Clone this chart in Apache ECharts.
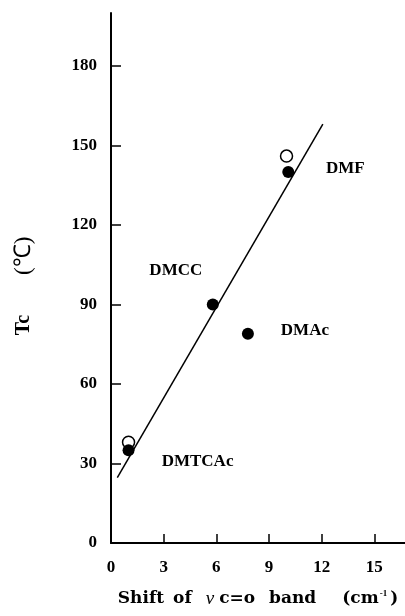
<!DOCTYPE html>
<html>
<head>
<meta charset="utf-8">
<script src="https://cdn.jsdelivr.net/npm/echarts@6/dist/echarts.min.js"></script>
<style>
  html, body { margin: 0; padding: 0; background: #fff; }
  #chart { width: 405px; height: 616px; }
</style>
</head>
<body>
<div id="chart"></div>
<script>
// Tick values on each axis
const xTicks = [0, 3, 6, 9, 12, 15];
const yTicks = [0, 30, 60, 90, 120, 150, 180];

// Solvents (filled circles): C=O band shift vs Tc
const solvents = ['DMF', 'DMCC', 'DMAc', 'DMTCAc'];
const shiftFilled = [10.1, 5.8, 7.8, 1.0];
const tcFilled = [140, 90, 79, 35];

// Second set of measurements (open circles)
const shiftOpen = [10.0, 1.0];
const tcOpen = [146, 38];

// Regression line end points
const fitShift = [0.36, 12.07];
const fitTc = [24.7, 158.1];

// Label placement relative to each filled point (pixels)
const labelOffsets = [[57, -3], [-37, -34], [57, -3], [69, 11]];

const serif = '"Liberation Serif", "Times New Roman", serif';
const wideSerif = '"DejaVu Serif", serif';

const chart = echarts.init(document.getElementById('chart'), null, { renderer: 'canvas' });

const filledData = solvents.map((name, i) => ({
  name: name,
  value: [shiftFilled[i], tcFilled[i]],
  label: { offset: labelOffsets[i] }
}));

const openData = shiftOpen.map((x, i) => [x, tcOpen[i]]);
const fitData = fitShift.map((x, i) => [x, fitTc[i]]);

const axisLineStyle = { color: '#000', width: 2 };
const tickLabelStyle = { color: '#000', fontFamily: serif, fontWeight: 'bold', fontSize: 17 };
const titleText = { fontFamily: wideSerif, fontWeight: 'bold', fontSize: 17, color: '#000' };

chart.setOption({
  animation: false,
  backgroundColor: '#fff',
  grid: { left: 111, right: 0, top: 13, bottom: 73, containLabel: false, outerBoundsMode: 'none' },
  xAxis: {
    type: 'value',
    min: 0,
    max: 16.75,
    interval: 3,
    splitLine: { show: false },
    axisLine: { show: true, onZero: false, lineStyle: axisLineStyle },
    axisTick: { show: true, inside: true, length: 9, customValues: xTicks, lineStyle: { color: '#000', width: 1.5 } },
    axisLabel: Object.assign({ margin: 16, customValues: xTicks }, tickLabelStyle),
    name: '{a|Shift}{s0|}{a|of}{s1|}{nu|ν}{s2|}{a|c=o}{s3|}{a|band}{s4|}{a|(cm}{sup|-1}{a|)}',
    nameLocation: 'middle',
    nameGap: 46,
    nameTextStyle: {
      rich: {
        a: titleText,
        nu: { fontFamily: serif, fontStyle: 'italic', fontSize: 19, color: '#000' },
        sup: { fontFamily: serif, fontWeight: 'bold', fontSize: 9, color: '#000', padding: [0, 3, 9, 1] },
        s0: { width: 9 },
        s1: { width: 14 },
        s2: { width: 5 },
        s3: { width: 14 },
        s4: { width: 26 }
      }
    }
  },
  yAxis: {
    type: 'value',
    min: 0,
    max: 200,
    interval: 30,
    splitLine: { show: false },
    axisLine: { show: true, onZero: false, lineStyle: axisLineStyle },
    axisTick: { show: true, inside: true, length: 10, customValues: yTicks, lineStyle: { color: '#000', width: 1.5 } },
    axisLabel: Object.assign({ margin: 14, customValues: yTicks }, tickLabelStyle),
    name: '{b|Tc}{g|}{n|(℃)}',
    nameLocation: 'middle',
    nameGap: 76,
    nameRotate: 90,
    nameTextStyle: {
      padding: [0, 16, 0, 0],
      rich: {
        b: { fontFamily: serif, fontWeight: 'bold', fontSize: 20, color: '#000' },
        n: { fontFamily: serif, fontSize: 23, color: '#000' },
        g: { width: 40 }
      }
    }
  },
  series: [
    {
      type: 'line',
      data: fitData,
      showSymbol: false,
      symbol: 'none',
      lineStyle: { color: '#000', width: 1.5 },
      silent: true,
      z: 2
    },
    {
      type: 'scatter',
      data: openData,
      symbol: 'circle',
      symbolSize: 12,
      itemStyle: { color: '#fff', borderColor: '#000', borderWidth: 1.5, opacity: 1 },
      z: 3
    },
    {
      type: 'scatter',
      data: filledData,
      symbol: 'circle',
      symbolSize: 12,
      itemStyle: { color: '#000', opacity: 1 },
      label: {
        show: true,
        formatter: '{b}',
        position: 'inside',
        align: 'center',
        verticalAlign: 'middle',
        fontFamily: serif,
        fontWeight: 'bold',
        fontSize: 17,
        color: '#000',
        opacity: 1
      },
      z: 4
    }
  ]
});
</script>
</body>
</html>
